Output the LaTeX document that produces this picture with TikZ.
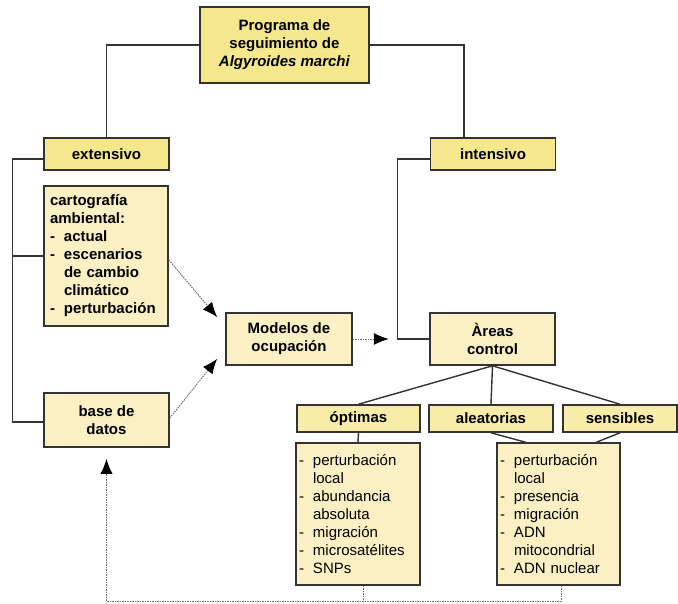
\documentclass[tikz,border=0pt]{standalone}
\usepackage{fontspec}
\setmainfont{Liberation Sans}
\usetikzlibrary{arrows.meta}
\definecolor{amarillo}{HTML}{F5E88C}
\definecolor{pajizo}{HTML}{F7ECA8}
\definecolor{crema}{HTML}{FAF0C4}
\definecolor{borde}{HTML}{333333}
\definecolor{punteado}{HTML}{6A7078}
\newcommand{\guion}{\makebox[14pt][l]{-}}
\newcommand{\sangria}{\hspace*{14pt}}

\begin{document}
\begin{tikzpicture}[x=1pt,y=-1pt,
		caja/.style={draw=borde,line width=1.6pt,inner sep=4pt,align=center,
			font=\fontsize{15}{18}\selectfont\bfseries},
		cabecera/.style={caja,fill=amarillo,minimum width=125pt,minimum height=32pt},
		rama/.style={caja,fill=pajizo,minimum height=27pt},
		contenido/.style={caja,fill=crema,minimum width=126pt,minimum height=52pt},
		lista/.style={caja,fill=crema,align=left,inner xsep=3pt,text width=118pt,minimum height=142pt,
			font=\fontsize{15}{18}\selectfont},
		enlace/.style={draw=borde,line width=1.4pt},
		flecha/.style={draw=punteado,line width=1pt,dash pattern=on 1.5pt off 1pt,
			-{Latex[length=15pt,width=12pt,color=black]}}]
	\useasboundingbox (0,0) rectangle (678,603);
	% cajas
	\node[cabecera,minimum width=169pt,minimum height=76pt] (titulo) at (284.5,45)
		{Programa de\\seguimiento de\\\textit{Algyroides marchi}};
	\node[cabecera] (ext) at (106.5,154) {extensivo};
	\node[cabecera] (intens) at (493,154) {intensivo};
	\node[caja,fill=crema,align=left,inner xsep=6pt,text width=112pt,minimum height=140pt] (carto) at (106,256)
		{cartografía\\ambiental:\\\guion actual\\\guion escenarios\\\sangria de cambio\\\sangria climático\\\guion perturbación};
	\node[contenido,minimum width=125pt,minimum height=54pt] (base) at (106.5,420) {base de\\datos};
	\node[contenido] (modelos) at (289,339) {Modelos de\\ocupación};
	\node[contenido,minimum width=125pt] (areas) at (492.5,339) {Àreas\\control};
	\node[rama,minimum width=123pt] (opt) at (358.5,418.5) {óptimas};
	\node[rama,minimum width=124pt] (alea) at (491,418.5) {aleatorias};
	\node[rama,minimum width=114pt] (sens) at (620,418.5) {sensibles};
	\node[lista] (listopt) at (358,514)
		{\guion perturbación\\\sangria local\\\guion abundancia\\\sangria absoluta\\\guion migración\\\guion microsatélites\\\guion SNPs};
	\node[lista,text width=117pt] (listsens) at (558.5,514)
		{\guion perturbación\\\sangria local\\\guion presencia\\\guion migración\\\guion ADN\\\sangria mitocondrial\\\guion ADN nuclear};
	\coordinate (retorno) at (106.5,601);
	% enlaces
	\draw[enlace] (titulo.west) -| (ext.north);
	\draw[enlace] (titulo.east) -| ([xshift=-29pt]intens.north);
	\draw[enlace] ([yshift=-5pt]ext.west) -- ++(-31,0) |- ([yshift=-2pt]base.west);
	\draw[enlace] (carto.west) -- ++(-31,0);
	\draw[enlace] ([yshift=-5pt]intens.west) -- ++(-32,0) |- (areas.west);
	\foreach \r in {opt,alea,sens}
	\draw[enlace] (areas.south) -- (\r.north);
	\draw[enlace] (opt.south) -- (listopt.north);
	\draw[enlace] (alea.south) -- ([xshift=-33pt]listsens.north);
	\draw[enlace] (sens.south) -- ([xshift=38pt]listsens.north);
	% flechas punteadas
	\draw[flecha] ([yshift=-4pt]carto.east) -- ([xshift=-8pt,yshift=-5pt]modelos.north west);
	\draw[flecha] ([yshift=2pt]base.east) -- ([xshift=-8pt,yshift=7pt]modelos.south west);
	\draw[flecha] (modelos.east) -- ([xshift=36pt]modelos.east);
	\draw[flecha,-] ([xshift=5pt]listopt.south) -- ([xshift=5pt]listopt.south |- retorno);
	\draw[flecha] ([xshift=2.5pt]listsens.south) |- (retorno) -- ([yshift=-11pt]base.south);
\end{tikzpicture}
\end{document}
